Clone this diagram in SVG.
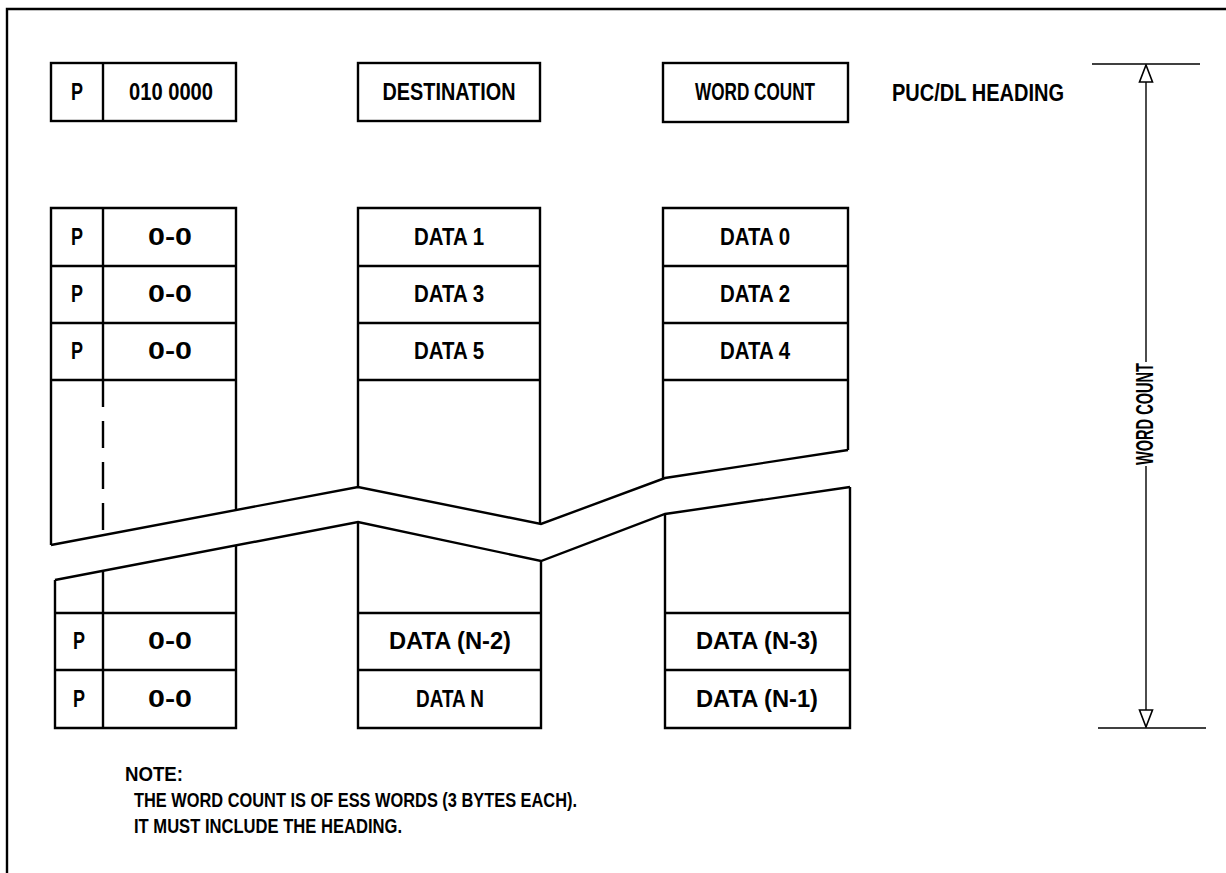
<svg xmlns="http://www.w3.org/2000/svg" width="1226" height="873" viewBox="0 0 1226 873">
<style>
.b{fill:none;stroke:#000;stroke-width:2.4;stroke-linejoin:miter}
.t{font-family:"Liberation Sans",Arial,sans-serif;font-weight:bold;font-size:23px;fill:#000}
.n{font-family:"Liberation Sans",Arial,sans-serif;font-weight:bold;font-size:21px;fill:#000}
.d{fill:none;stroke:#000;stroke-width:1.4}
</style>
<defs>
<marker id="ah" viewBox="0 0 20 16" refX="19" refY="8" markerWidth="20" markerHeight="16" markerUnits="userSpaceOnUse" orient="auto">
<path d="M19,8 L2,1.5 L2,14.5 Z" fill="#fff" stroke="#000" stroke-width="1.6"/>
</marker>
</defs>
<rect width="1226" height="873" fill="#fff"/>
<g id="frame"><path class="b" d="M7,873 L7,9 L1226,9"/></g>

<g id="hdr-p">
<rect class="b" x="51" y="63" width="185" height="58"/>
<line class="b" x1="103" y1="63" x2="103" y2="121"/>
<text class="t" x="77" y="100" text-anchor="middle" textLength="12" lengthAdjust="spacingAndGlyphs">P</text>
<text class="t" x="171" y="100" text-anchor="middle" textLength="84" lengthAdjust="spacingAndGlyphs">010 0000</text>
</g>
<g id="hdr-dest">
<rect class="b" x="358" y="63" width="182" height="58"/>
<text class="t" x="449" y="100" text-anchor="middle" textLength="133" lengthAdjust="spacingAndGlyphs">DESTINATION</text>
</g>
<g id="hdr-wc">
<rect class="b" x="663" y="63" width="185" height="59"/>
<text class="t" x="755" y="100" text-anchor="middle" textLength="120" lengthAdjust="spacingAndGlyphs">WORD COUNT</text>
</g>
<g id="hdr-label">
<text class="t" x="892" y="101" textLength="172" lengthAdjust="spacingAndGlyphs">PUC/DL HEADING</text>
</g>

<g id="col1-top">
<path class="b" d="M236,510 L236,208 L51,208 L51,545"/>
<line class="b" x1="51" y1="266" x2="236" y2="266"/>
<line class="b" x1="51" y1="323" x2="236" y2="323"/>
<line class="b" x1="51" y1="380" x2="236" y2="380"/>
<line class="b" x1="103" y1="208" x2="103" y2="380"/>
<line class="b" x1="103" y1="380" x2="103" y2="535" stroke-dasharray="27,14"/>
<text class="t" x="77" y="245" text-anchor="middle" textLength="12" lengthAdjust="spacingAndGlyphs">P</text>
<text class="t" x="170" y="245" text-anchor="middle" textLength="44" lengthAdjust="spacingAndGlyphs">0-0</text>
<text class="t" x="77" y="302" text-anchor="middle" textLength="12" lengthAdjust="spacingAndGlyphs">P</text>
<text class="t" x="170" y="302" text-anchor="middle" textLength="44" lengthAdjust="spacingAndGlyphs">0-0</text>
<text class="t" x="77" y="359" text-anchor="middle" textLength="12" lengthAdjust="spacingAndGlyphs">P</text>
<text class="t" x="170" y="359" text-anchor="middle" textLength="44" lengthAdjust="spacingAndGlyphs">0-0</text>
</g>
<g id="col2-top">
<path class="b" d="M358,487 L358,208 L540,208 L540,524"/>
<line class="b" x1="358" y1="266" x2="540" y2="266"/>
<line class="b" x1="358" y1="323" x2="540" y2="323"/>
<line class="b" x1="358" y1="380" x2="540" y2="380"/>
<text class="t" x="449" y="245" text-anchor="middle" textLength="70" lengthAdjust="spacingAndGlyphs">DATA 1</text>
<text class="t" x="449" y="302" text-anchor="middle" textLength="70" lengthAdjust="spacingAndGlyphs">DATA 3</text>
<text class="t" x="449" y="359" text-anchor="middle" textLength="70" lengthAdjust="spacingAndGlyphs">DATA 5</text>
</g>
<g id="col3-top">
<path class="b" d="M663,478 L663,208 L848,208 L848,450"/>
<line class="b" x1="663" y1="266" x2="848" y2="266"/>
<line class="b" x1="663" y1="323" x2="848" y2="323"/>
<line class="b" x1="663" y1="380" x2="848" y2="380"/>
<text class="t" x="755" y="245" text-anchor="middle" textLength="70" lengthAdjust="spacingAndGlyphs">DATA 0</text>
<text class="t" x="755" y="302" text-anchor="middle" textLength="70" lengthAdjust="spacingAndGlyphs">DATA 2</text>
<text class="t" x="755" y="359" text-anchor="middle" textLength="70" lengthAdjust="spacingAndGlyphs">DATA 4</text>
</g>

<g id="break">
<polyline class="b" points="51,545 358,487 541,524 665,478 848,450"/>
<polyline class="b" points="55,580 358,522 541,561 665,514 850,487"/>
</g>

<g id="col1-bot">
<path class="b" d="M55,580 L55,728 L236,728 L236,545"/>
<line class="b" x1="55" y1="613" x2="236" y2="613"/>
<line class="b" x1="55" y1="670" x2="236" y2="670"/>
<line class="b" x1="103" y1="571" x2="103" y2="728"/>
<text class="t" x="79" y="649" text-anchor="middle" textLength="12" lengthAdjust="spacingAndGlyphs">P</text>
<text class="t" x="170" y="649" text-anchor="middle" textLength="44" lengthAdjust="spacingAndGlyphs">0-0</text>
<text class="t" x="79" y="707" text-anchor="middle" textLength="12" lengthAdjust="spacingAndGlyphs">P</text>
<text class="t" x="170" y="707" text-anchor="middle" textLength="44" lengthAdjust="spacingAndGlyphs">0-0</text>
</g>
<g id="col2-bot">
<path class="b" d="M358,522 L358,728 L541,728 L541,561"/>
<line class="b" x1="358" y1="613" x2="541" y2="613"/>
<line class="b" x1="358" y1="670" x2="541" y2="670"/>
<text class="t" x="450" y="649" text-anchor="middle" textLength="122" lengthAdjust="spacingAndGlyphs">DATA (N-2)</text>
<text class="t" x="450" y="707" text-anchor="middle" textLength="68" lengthAdjust="spacingAndGlyphs">DATA N</text>
</g>
<g id="col3-bot">
<path class="b" d="M665,514 L665,728 L850,728 L850,487"/>
<line class="b" x1="665" y1="613" x2="850" y2="613"/>
<line class="b" x1="665" y1="670" x2="850" y2="670"/>
<text class="t" x="757" y="649" text-anchor="middle" textLength="122" lengthAdjust="spacingAndGlyphs">DATA (N-3)</text>
<text class="t" x="757" y="707" text-anchor="middle" textLength="122" lengthAdjust="spacingAndGlyphs">DATA (N-1)</text>
</g>

<g id="dimension">
<line class="d" x1="1092" y1="64" x2="1200" y2="64"/>
<line class="d" x1="1098" y1="728" x2="1206" y2="728"/>
<line class="d" x1="1146" y1="362" x2="1146" y2="65" marker-end="url(#ah)"/>
<line class="d" x1="1146" y1="466" x2="1146" y2="727" marker-end="url(#ah)"/>
<text class="t" transform="translate(1153,414) rotate(-90)" text-anchor="middle" font-size="21" textLength="102" lengthAdjust="spacingAndGlyphs">WORD COUNT</text>
</g>

<g id="note">
<text class="n" x="125" y="781" textLength="58" lengthAdjust="spacingAndGlyphs">NOTE:</text>
<text class="n" x="134" y="807" textLength="443" lengthAdjust="spacingAndGlyphs">THE WORD COUNT IS OF ESS WORDS (3 BYTES EACH).</text>
<text class="n" x="134" y="833" textLength="268" lengthAdjust="spacingAndGlyphs">IT MUST INCLUDE THE HEADING.</text>
</g>
</svg>
